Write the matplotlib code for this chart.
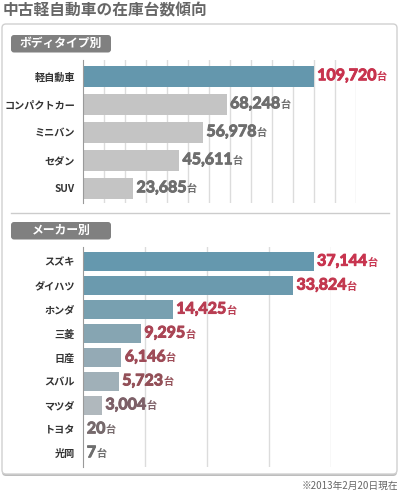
import matplotlib
matplotlib.use('Agg')
import matplotlib.pyplot as plt
import matplotlib.patheffects as pe
from matplotlib.patches import FancyBboxPatch
from matplotlib.offsetbox import TextArea, HPacker, AnnotationBbox

plt.rcParams['font.family'] = ['Noto Sans CJK JP', 'DejaVu Sans']

# data
body_types = ['軽自動車', 'コンパクトカー', 'ミニバン', 'セダン', 'SUV']
body_counts = [109720, 68248, 56978, 45611, 23685]
body_bar_colors = ['#6497ad', '#c4c4c4', '#c4c4c4', '#c4c4c4', '#c4c4c4']
body_text_colors = ['#c8334e', '#6e6e6e', '#6e6e6e', '#6e6e6e', '#6e6e6e']

makers = ['スズキ', 'ダイハツ', 'ホンダ', '三菱', '日産', 'スバル', 'マツダ', 'トヨタ', '光岡']
maker_counts = [37144, 33824, 14425, 9295, 6146, 5723, 3004, 20, 7]
maker_bar_colors = ['#6598ae', '#6b9aae', '#78a0b0', '#86a5b2', '#94aab5',
                    '#a0b0b8', '#b0b8bd', '#b8bec2', '#bcc0c4']
maker_text_colors = ['#c8344f', '#c3384f', '#b93d52', '#aa4555', '#9e4b57',
                     '#935058', '#7d6068', '#766a6c', '#6e6e6e']

W, H = 400, 491
fig = plt.figure(figsize=(4, 4.91), dpi=100)
fig.patch.set_facecolor('white')


def px_axes(x0, y0, x1, y1):
    # box in pixels, y measured from the top
    return fig.add_axes([x0 / W, 1 - y1 / H, (x1 - x0) / W, (y1 - y0) / H])


# background layer: panel, headers, title
bg = px_axes(0, 0, W, H)
bg.set_xlim(0, W)
bg.set_ylim(H, 0)
bg.axis('off')

bg.add_patch(FancyBboxPatch((2, 25), 395, 451, boxstyle='round,pad=0,rounding_size=4',
                            fc='#bdbdbd', ec='none'))
bg.add_patch(FancyBboxPatch((2, 24), 395, 450, boxstyle='round,pad=0,rounding_size=4',
                            fc='white', ec='#d0d0d0', lw=1))

bg.text(3, 10, '中古軽自動車の在庫台数傾向', fontsize=11.3, fontweight='bold',
        color='#666666', va='center', ha='left')

for y0, title in [(35, 'ボディタイプ別'), (222, 'メーカー別')]:
    bg.add_patch(FancyBboxPatch((11, y0), 100, 17.5, boxstyle='round,pad=0,rounding_size=3',
                                fc='#808080', ec='none'))
    bg.text(61, y0 + 8.8, title, fontsize=8.5, fontweight='bold', color='white',
            ha='center', va='center')

bg.plot([11, 389], [213, 213], color='#cccccc', lw=1)
bg.text(398, 486, '※2013年2月20日現在', fontsize=7, color='#666666',
        ha='right', va='center')


def draw_bars(ax, labels, values, bar_colors, text_colors, xmax, height, ylim):
    ax.set_facecolor('none')
    ax.barh(range(len(values)), values, height=height, color=bar_colors, zorder=2)
    ax.set_xlim(0, xmax)
    ax.set_ylim(*ylim)
    ax.set_xticks(range(10000, xmax + 1, 10000))
    ax.set_axisbelow(True)
    ax.grid(axis='x', color='#dcdcdc', lw=1)
    ax.set_yticks(range(len(values)), labels)
    ax.tick_params(length=0, pad=6, labelsize=7.3, labelcolor='#333333')
    for lab in ax.get_yticklabels():
        lab.set_fontweight('bold')
    ax.tick_params(axis='x', labelbottom=False)
    for s in ['top', 'right', 'bottom']:
        ax.spines[s].set_visible(False)
    ax.spines['left'].set_color('#9a9a9a')
    for i, (v, c) in enumerate(zip(values, text_colors)):
        thick = [pe.withStroke(linewidth=0.7, foreground=c)]
        num = TextArea(f'{v:,}', textprops=dict(color=c, fontsize=11.5, fontweight='bold',
                                                family=['Lato', 'DejaVu Sans'],
                                                path_effects=thick))
        unit = TextArea('台', textprops=dict(color=c, fontsize=7.3, fontweight='bold'))
        box = HPacker(children=[num, unit], align='baseline', pad=0, sep=0)
        ab = AnnotationBbox(box, (v, i), xybox=(2.5, 0), xycoords='data',
                            boxcoords='offset points', box_alignment=(0, 0.5),
                            frameon=False, annotation_clip=False)
        ax.add_artist(ab)


ax1 = px_axes(83.3, 60, 356.3, 203)
draw_bars(ax1, body_types, body_counts, body_bar_colors, body_text_colors,
          130000, 0.75, (4.525, -0.58))

ax2 = px_axes(83.3, 246.7, 331.3, 466.7)
draw_bars(ax2, makers, maker_counts, maker_bar_colors, maker_text_colors,
          40000, 0.78, (8.56, -0.625))

fig.savefig('out.png', dpi=100)
